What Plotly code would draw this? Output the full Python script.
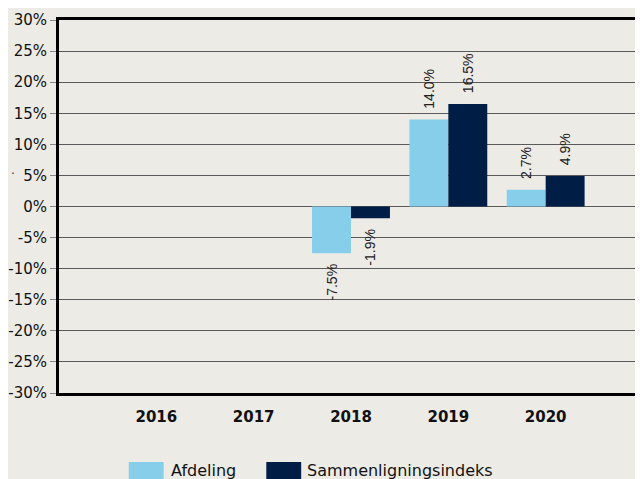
import plotly.graph_objects as go

years = ["2016", "2017", "2018", "2019", "2020"]
afdeling = [None, None, -7.5, 14.0, 2.7]
indeks = [None, None, -1.9, 16.5, 4.9]
series_names = ["Afdeling", "Sammenligningsindeks"]
tick_vals = [-30, -25, -20, -15, -10, -5, 0, 5, 10, 15, 20, 25, 30]
tick_text = [f"{v}%" for v in tick_vals]

colors = ["#87CEEB", "#001E45"]
bg = "#ECEBE6"
NB = "\u00a0"


def labels(vals):
    out = []
    for v in vals:
        if v is None:
            out.append(None)
        elif v >= 0:
            out.append(NB * 2 + f"{v:.1f}%")
        else:
            out.append(f"{v:.1f}%" + NB * 2)
    return out


fig = go.Figure()
for name, vals, col in zip(series_names, [afdeling, indeks], colors):
    fig.add_trace(go.Bar(
        x=years, y=vals, name=name,
        marker=dict(color=col, line=dict(width=0)),
        text=labels(vals), textposition="outside", textangle=-90,
        constraintext="none",
        textfont=dict(family="Liberation Sans, Arial, sans-serif", size=14, color="#222222"),
        cliponaxis=False, showlegend=False,
    ))

# page has an 8px body margin; figure is placed at (8, 8)
fig.update_layout(
    width=635, height=471,
    margin=dict(l=49, r=0, t=12, b=86, pad=0),
    paper_bgcolor=bg, plot_bgcolor=bg,
    barmode="group", bargap=0.2, bargroupgap=0,
    font=dict(family="DejaVu Sans, Verdana, sans-serif", color="#111111"),
)
fig.update_xaxes(
    type="category", range=[-1, 5],
    showgrid=False, showline=True, linecolor="#000000", linewidth=3, mirror=True,
    ticks="", tickfont=dict(size=15, family="DejaVu Sans, Verdana, sans-serif", weight="bold", color="#111111"),
    ticklabelstandoff=8, zeroline=False,
)
fig.update_yaxes(
    range=[-30, 30], tickvals=tick_vals, ticktext=tick_text,
    showgrid=True, gridcolor="#5a5a5a", gridwidth=1,
    zeroline=True, zerolinecolor="#5a5a5a", zerolinewidth=1,
    showline=True, linecolor="#000000", linewidth=3,
    ticks="outside", ticklen=6, tickcolor="#888888", tickwidth=1,
    tickfont=dict(size=15, family="DejaVu Sans, Verdana, sans-serif", color="#111111"),
)

# custom legend (swatches + text), positions in page pixels
W = 586.0
H = 373.0
def px_x(x):
    return (x - 57) / W
def px_y(y):
    return (393 - y) / H

legend_items = [(127, 162, 167), (265, 300, 304)]
for (x0, x1, tx), name, col in zip(legend_items, series_names, colors):
    fig.add_shape(type="rect", xref="paper", yref="paper",
                  x0=px_x(x0), x1=px_x(x1), y0=px_y(486), y1=px_y(462),
                  fillcolor=col, line=dict(width=0), layer="above")
    fig.add_annotation(xref="paper", yref="paper", x=px_x(tx), y=px_y(471),
                       text=name, showarrow=False, xanchor="left", yanchor="middle",
                       font=dict(size=16, family="DejaVu Sans, Verdana, sans-serif", color="#111111"))

fig.add_annotation(xref="paper", yref="paper", x=px_x(11), y=px_y(174),
                   text="·", showarrow=False, xanchor="center", yanchor="middle",
                   font=dict(size=12, color="#333333"))

fig.write_html("out.html")
